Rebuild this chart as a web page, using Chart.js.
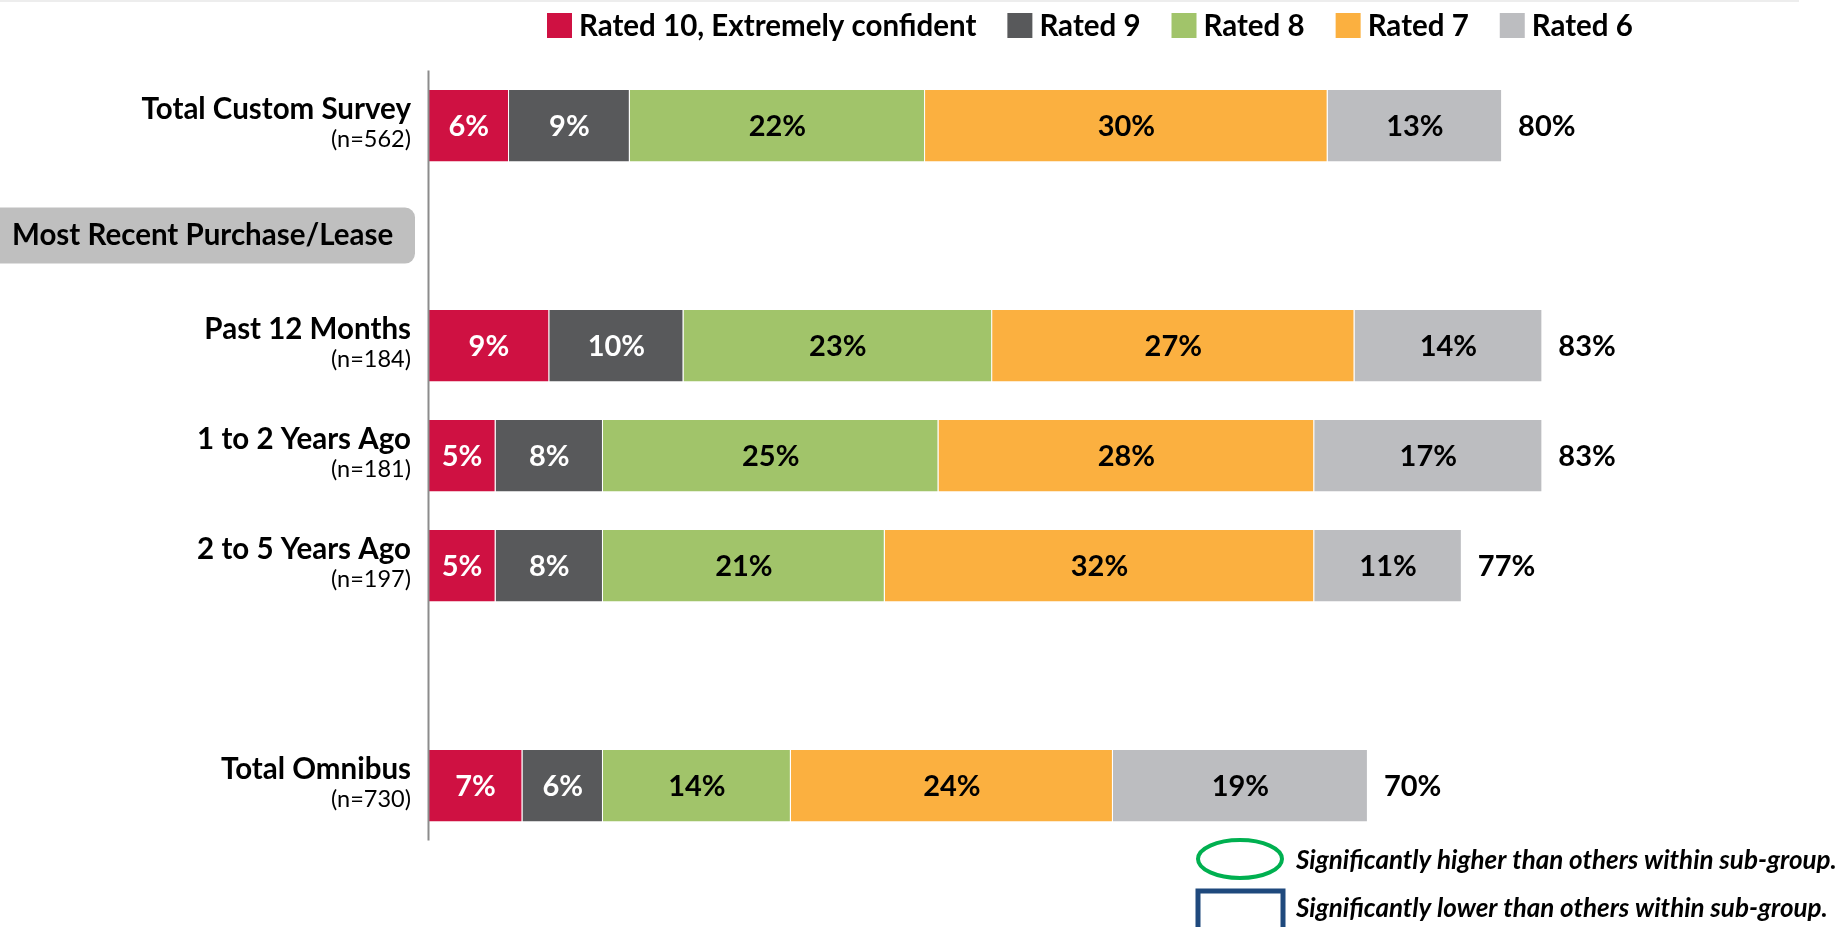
<!DOCTYPE html>
<html>
<head>
<meta charset="utf-8">
<script src="https://cdn.jsdelivr.net/npm/chart.js@4.4.1/dist/chart.umd.min.js"></script>
<style>
  body { margin: 0; background: #fff; }
  canvas { display: block; }
</style>
</head>
<body>
<canvas id="ratingChart" width="1846" height="927"></canvas>
<script>
// rows, top to bottom ('' = spacer row)
const rowNames = ['Total Custom Survey', 'Most Recent Purchase/Lease', 'Past 12 Months', '1 to 2 Years Ago', '2 to 5 Years Ago', '', 'Total Omnibus'];
const sampleSizes = ['(n=562)', '', '(n=184)', '(n=181)', '(n=197)', '', '(n=730)'];
const headerRows = [false, true, false, false, false, false, false];

const rated10 = [6, null, 9, 5, 5, null, 7];
const rated9  = [9, null, 10, 8, 8, null, 6];
const rated8  = [22, null, 23, 25, 21, null, 14];
const rated7  = [30, null, 27, 28, 32, null, 24];
const rated6  = [13, null, 14, 17, 11, null, 19];
const totals  = [80, null, 83, 83, 77, null, 70];

const seriesNames = ['Rated 10, Extremely confident', 'Rated 9', 'Rated 8', 'Rated 7', 'Rated 6'];
const seriesColors = ['#CF1142', '#58595B', '#A1C46A', '#FBB040', '#BCBDC0'];
const labelColors = ['#ffffff', '#ffffff', '#000000', '#000000', '#000000'];

const FONT = "Lato, 'Noto Sans', sans-serif";

var ctx = document.getElementById('ratingChart');

const drawExtras = {
    id: 'drawExtras',
    afterDatasetsDraw(chart) {
        const c = chart.ctx;
        const area = chart.chartArea;
        const y = chart.scales.y;

        c.save();
        // faint rule at the very top
        c.fillStyle = '#ededed';
        c.fillRect(0, 0, 1799, 2);

        // vertical axis line
        c.strokeStyle = '#8c8c8c';
        c.lineWidth = 2;
        c.beginPath();
        c.moveTo(area.left, area.top);
        c.lineTo(area.left, area.bottom);
        c.stroke();

        // row labels
        rowNames.forEach((name, i) => {
            const yc = y.getPixelForValue(i);
            if (!name) return;
            if (headerRows[i]) {
                c.fillStyle = '#BFBFBF';
                c.beginPath();
                c.roundRect(-20, yc - 28, 435, 56, 10);
                c.fill();
                c.fillStyle = '#000';
                c.font = 'bold 29.5px ' + FONT;
                c.textAlign = 'left';
                c.textBaseline = 'middle';
                c.fillText(name, 12, yc);
                return;
            }
            c.fillStyle = '#000';
            c.textAlign = 'right';
            c.textBaseline = 'middle';
            c.font = 'bold 29.5px ' + FONT;
            c.fillText(name, 411, yc - 16);
            c.font = '23.5px ' + FONT;
            c.fillText(sampleSizes[i], 411, yc + 14);
        });

        // segment labels
        c.font = 'bold 29px ' + FONT;
        c.textAlign = 'center';
        c.textBaseline = 'middle';
        chart.data.datasets.forEach((ds, d) => {
            const meta = chart.getDatasetMeta(d);
            meta.data.forEach((bar, i) => {
                const v = ds.data[i];
                if (v == null) return;
                c.fillStyle = labelColors[d];
                c.fillText(v + '%', (bar.x + bar.base) / 2, bar.y + 1);
            });
        });

        // totals at bar end
        const last = chart.getDatasetMeta(chart.data.datasets.length - 1);
        c.fillStyle = '#000';
        c.textAlign = 'left';
        last.data.forEach((bar, i) => {
            if (totals[i] == null) return;
            c.fillText(totals[i] + '%', bar.x + 16, bar.y + 1);
        });

        // legend across the top
        c.font = 'bold 29.5px ' + FONT;
        c.textBaseline = 'middle';
        let lx = 547;
        chart.data.datasets.forEach((ds) => {
            c.fillStyle = ds.backgroundColor;
            c.fillRect(lx, 13, 25, 25);
            c.fillStyle = '#000';
            c.fillText(ds.label, lx + 32, 26);
            lx += 32 + c.measureText(ds.label).width + 31;
        });

        // significance key, bottom right
        c.lineWidth = 4;
        c.strokeStyle = '#00B050';
        c.beginPath();
        c.ellipse(1240, 859, 42, 19, 0, 0, Math.PI * 2);
        c.stroke();
        c.strokeStyle = '#1F497D';
        c.lineWidth = 5;
        c.strokeRect(1198, 891, 85, 40);
        c.fillStyle = '#000';
        c.font = 'italic bold 26px ' + FONT;
        c.fillText('Significantly higher than others within sub-group.', 1296, 861);
        c.fillText('Significantly lower than others within sub-group.', 1296, 909);
        c.restore();
    }
};

const sets = [rated10, rated9, rated8, rated7, rated6].map((vals, k) => ({
    label: seriesNames[k],
    data: vals,
    backgroundColor: seriesColors[k],
    borderColor: 'rgba(255,255,255,0.7)',
    borderWidth: 1,
    barPercentage: 0.665,
    categoryPercentage: 1
}));

var myChart = new Chart(ctx, {
    type: 'bar',
    data: {
        labels: rowNames,
        datasets: sets
    },
    options: {
        indexAxis: 'y',
        responsive: false,
        animation: false,
        layout: { padding: { left: 428.5, right: 75.5, top: 70.6, bottom: 86.4 } },
        scales: {
            x: { stacked: true, display: false, min: 0, max: 100 },
            y: { stacked: true, display: false }
        },
        plugins: {
            legend: { display: false },
            tooltip: { enabled: false }
        }
    },
    plugins: [drawExtras]
});
</script>
</body>
</html>
